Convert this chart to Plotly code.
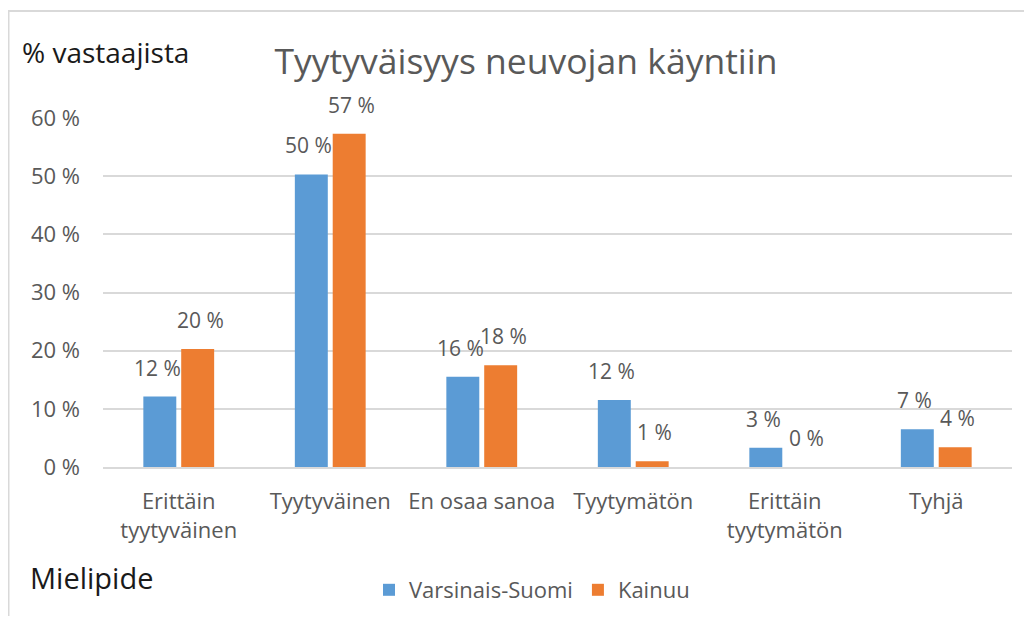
import plotly.graph_objects as go

categories = ["Erittäin<br>tyytyväinen", "Tyytyväinen", "En osaa sanoa", "Tyytymätön",
              "Erittäin<br>tyytymätön", "Tyhjä"]
varsinais_suomi = [12.1, 50.3, 15.5, 11.5, 3.3, 6.5]
kainuu = [20.3, 57.3, 17.5, 1.0, 0.0, 3.4]
vs_labels = ["12 %", "50 %", "16 %", "12 %", "3 %", "7 %"]
ka_labels = ["20 %", "57 %", "18 %", "1 %", "0 %", "4 %"]
y_ticks = [0, 10, 20, 30, 40, 50, 60]

BLUE = "#5B9BD5"
ORANGE = "#ED7D31"
GRAY = "#595959"
FONT = "Open Sans"

# page body has an 8px margin; figure sized to fit the window
OFF = 8
W, H = 1016, 608
L, R, T, B = 95, 12, 110, 149
pw, ph = W - L - R, H - T - B


def px_x(px):
    return (px - OFF - L) / pw


def px_y(py):
    return (H - B - (py - OFF)) / ph


fig = go.Figure()
fig.add_trace(go.Bar(name="Varsinais-Suomi", x=categories, y=varsinais_suomi,
                     marker_color=BLUE, marker_line_width=0))
fig.add_trace(go.Bar(name="Kainuu", x=categories, y=kainuu,
                     marker_color=ORANGE, marker_line_width=0))

annotations = []
for series, labels, shift in ((varsinais_suomi, vs_labels, -21.5), (kainuu, ka_labels, 21.5)):
    for c, v, t in zip(categories, series, labels):
        annotations.append(dict(x=c, y=v, xref="x", yref="y", text=t, showarrow=False,
                                xshift=shift, yshift=29, yanchor="middle",
                                font=dict(family=FONT, size=21, color=GRAY)))

annotations.append(dict(x=px_x(20), y=px_y(52), xref="paper", yref="paper",
                        text="% vastaajista", showarrow=False, xanchor="left",
                        yanchor="middle", font=dict(family=FONT, size=28, color="#1a1a1a")))
annotations.append(dict(x=px_x(28), y=px_y(577), xref="paper", yref="paper",
                        text="Mielipide", showarrow=False, xanchor="left",
                        yanchor="middle", font=dict(family=FONT, size=29, color="#1a1a1a")))

fig.update_layout(
    width=W, height=H,
    margin=dict(l=L, r=R, t=T, b=B, autoexpand=False),
    paper_bgcolor="white", plot_bgcolor="white",
    barmode="group", bargap=0.5, bargroupgap=0.13,
    title=dict(text="Tyytyväisyys neuvojan käyntiin", x=(526 - OFF) / W, y=1 - (62 - OFF) / H,
               xref="container", yref="container", xanchor="center", yanchor="middle",
               font=dict(family=FONT, size=35.5, color=GRAY)),
    font=dict(family=FONT, color=GRAY),
    showlegend=True,
    legend=dict(orientation="h", xref="container", yref="container",
                x=(532 - OFF) / W, y=1 - (590 - OFF) / H, xanchor="center",
                yanchor="middle", font=dict(family=FONT, size=22, color=GRAY),
                itemwidth=30, tracegroupgap=0),
    annotations=annotations,
    shapes=[dict(type="rect", xref="paper", yref="paper",
                 x0=px_x(8.5), x1=px_x(1060), y0=px_y(660), y1=px_y(11),
                 line=dict(color="#d9d9d9", width=2), fillcolor="rgba(0,0,0,0)")],
)

fig.update_yaxes(range=[0, 60], tickvals=y_ticks, ticktext=[f"{v} %" for v in y_ticks],
                 showgrid=True, gridcolor="#d9d9d9", gridwidth=1.5, zeroline=False,
                 showline=False, ticks="", ticklabelstandoff=22,
                 tickfont=dict(family=FONT, size=22, color=GRAY))
fig.update_xaxes(showline=True, linecolor="#d9d9d9", linewidth=1.5, ticks="",
                 showgrid=False, ticklabelstandoff=14,
                 tickfont=dict(family=FONT, size=22, color=GRAY))

fig.write_html("out.html")
